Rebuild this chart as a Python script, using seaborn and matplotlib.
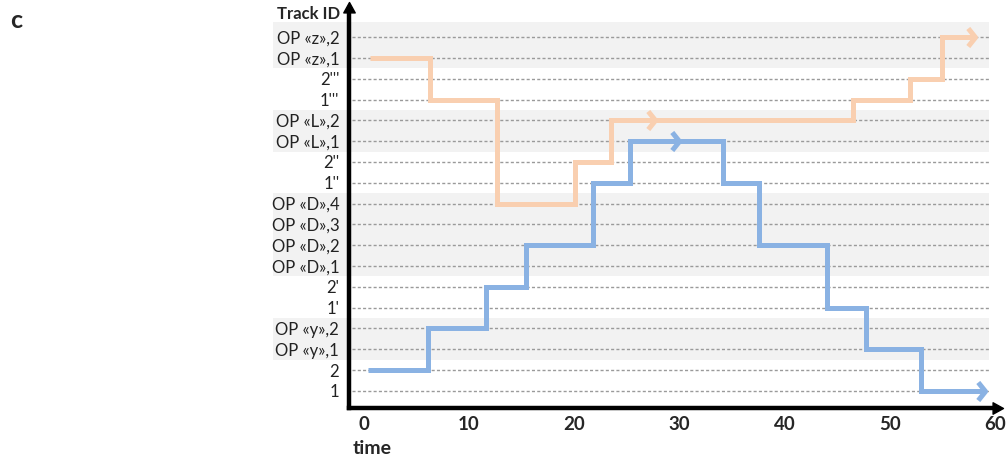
import numpy as np
import pandas as pd
import matplotlib
matplotlib.use("Agg")
import matplotlib.pyplot as plt
from matplotlib.path import Path
import seaborn as sns

# ---- data ----
track_ids = ["1", "2", "OP «y»,1", "OP «y»,2", "1'", "2'",
             "OP «D»,1", "OP «D»,2", "OP «D»,3", "OP «D»,4",
             "1''", "2''", "OP «L»,1", "OP «L»,2", "1'''", "2'''",
             "OP «z»,1", "OP «z»,2"]
op_groups = [["OP «y»,1", "OP «y»,2"],
             ["OP «D»,1", "OP «D»,2", "OP «D»,3", "OP «D»,4"],
             ["OP «L»,1", "OP «L»,2"],
             ["OP «z»,1", "OP «z»,2"]]

blue_time = [0.4, 6.1, 11.6, 15.4, 21.8, 25.3, 34.1, 37.6, 44.0, 47.7, 53.0, 59.0]
blue_track = ["2", "OP «y»,2", "2'", "OP «D»,2", "1''", "OP «L»,1",
              "1''", "OP «D»,2", "1'", "OP «y»,1", "1", "1"]
blue_arrow_time = [30.0, 59.0]
blue_arrow_track = ["OP «L»,1", "1"]

orange_time = [0.6, 6.3, 12.7, 20.1, 23.5, 46.5, 51.9, 55.0, 58.1]
orange_track = ["OP «z»,1", "1'''", "OP «D»,4", "2''", "OP «L»,2",
                "1'''", "2'''", "OP «z»,2", "OP «z»,2"]
orange_arrow_time = [27.7, 58.1]
orange_arrow_track = ["OP «L»,2", "OP «z»,2"]

x_ticks = [0, 10, 20, 30, 40, 50, 60]

# ---- style ----
sns.set_style("white")
plt.rcParams['font.family'] = ['Lato', 'DejaVu Sans']

BLUE = "#8AB2E3"
ORANGE = "#F9CFB0"
BAND = "#F2F2F2"

idx = {t: i for i, t in enumerate(track_ids)}

df = pd.concat([
    pd.DataFrame({"time": blue_time, "level": [idx[t] for t in blue_track], "series": "blue"}),
    pd.DataFrame({"time": orange_time, "level": [idx[t] for t in orange_track], "series": "orange"}),
], ignore_index=True)

fig = plt.figure(figsize=(10.08, 4.59), dpi=100)
ax = fig.add_axes([0.3462, 0.1111, 0.641, 0.867])

ymin, ymax = -0.82, 18.3
ax.set_xlim(-1.4, 60)
ax.set_ylim(ymin, ymax)

# gray bands for OP groups (extend behind labels)
for g in op_groups:
    lo = min(idx[t] for t in g) - 0.5
    hi = max(idx[t] for t in g) + 0.5
    if hi >= len(track_ids) - 0.5:
        hi += 0.22
    ax.axhspan(lo, hi, xmin=-0.118, xmax=0.99, color=BAND, lw=0, zorder=0, clip_on=False)

# dashed guide lines
for i in range(len(track_ids)):
    ax.axhline(i, xmin=0.005, xmax=0.99, color="#9A9A9A", lw=1.0,
               dashes=(2.2, 1.6), zorder=1)

sns.lineplot(data=df, x="time", y="level", hue="series",
             palette={"blue": BLUE, "orange": ORANGE},
             drawstyle="steps-post", estimator=None, sort=False,
             lw=3.6, legend=False, ax=ax, zorder=3,
             solid_joinstyle="miter", solid_capstyle="butt")

chevron = Path([(-0.8, 1.0), (0.0, 0.0), (-0.8, -1.0)],
               [Path.MOVETO, Path.LINETO, Path.LINETO])
for times, tracks, col in [(blue_arrow_time, blue_arrow_track, BLUE),
                           (orange_arrow_time, orange_arrow_track, ORANGE)]:
    ax.plot(times, [idx[t] for t in tracks], ls="none", marker=chevron,
            ms=13, mew=3.6, mec=col, mfc="none", zorder=4, clip_on=False)

# axes styling
for s in ["top", "right"]:
    ax.spines[s].set_visible(False)
for s in ["left", "bottom"]:
    ax.spines[s].set_linewidth(3.2)
    ax.spines[s].set_color("black")
    ax.spines[s].set_zorder(5)
xhead = Path([(-1.0, 0.55), (0.0, 0.0), (-1.0, -0.55), (-1.0, 0.55)],
             [Path.MOVETO, Path.LINETO, Path.LINETO, Path.CLOSEPOLY])
yhead = Path([(-0.55, -1.0), (0.0, 0.0), (0.55, -1.0), (-0.55, -1.0)],
             [Path.MOVETO, Path.LINETO, Path.LINETO, Path.CLOSEPOLY])
ax.plot(1.012, 0, marker=xhead, ms=15, color="black", transform=ax.transAxes,
        clip_on=False, zorder=6)
ax.plot(0, 1.02, marker=yhead, ms=15, color="black", transform=ax.transAxes,
        clip_on=False, zorder=6)

ax.set_yticks(range(len(track_ids)))
ax.set_yticklabels(track_ids, fontsize=12, color="#222222")
ax.set_xticks(x_ticks)
ax.set_xticklabels([str(v) for v in x_ticks], fontsize=13.5, fontweight="bold")
ax.tick_params(axis="both", length=0)
ax.tick_params(axis="y", pad=7)
ax.tick_params(axis="x", pad=6)
ax.set_xlabel("")
ax.set_ylabel("")

fig.text(372 / 1008, 1 - 449 / 459, "time", fontsize=14, fontweight="bold",
         ha="center", va="center")
fig.text(340 / 1008, 1 - 14 / 459, "Track ID", fontsize=12, fontweight="bold",
         ha="right", va="center")
fig.text(16 / 1008, 1 - 21 / 459, "c", fontsize=18, fontweight="bold",
         ha="center", va="center")

fig.savefig("out.png", dpi=100)
